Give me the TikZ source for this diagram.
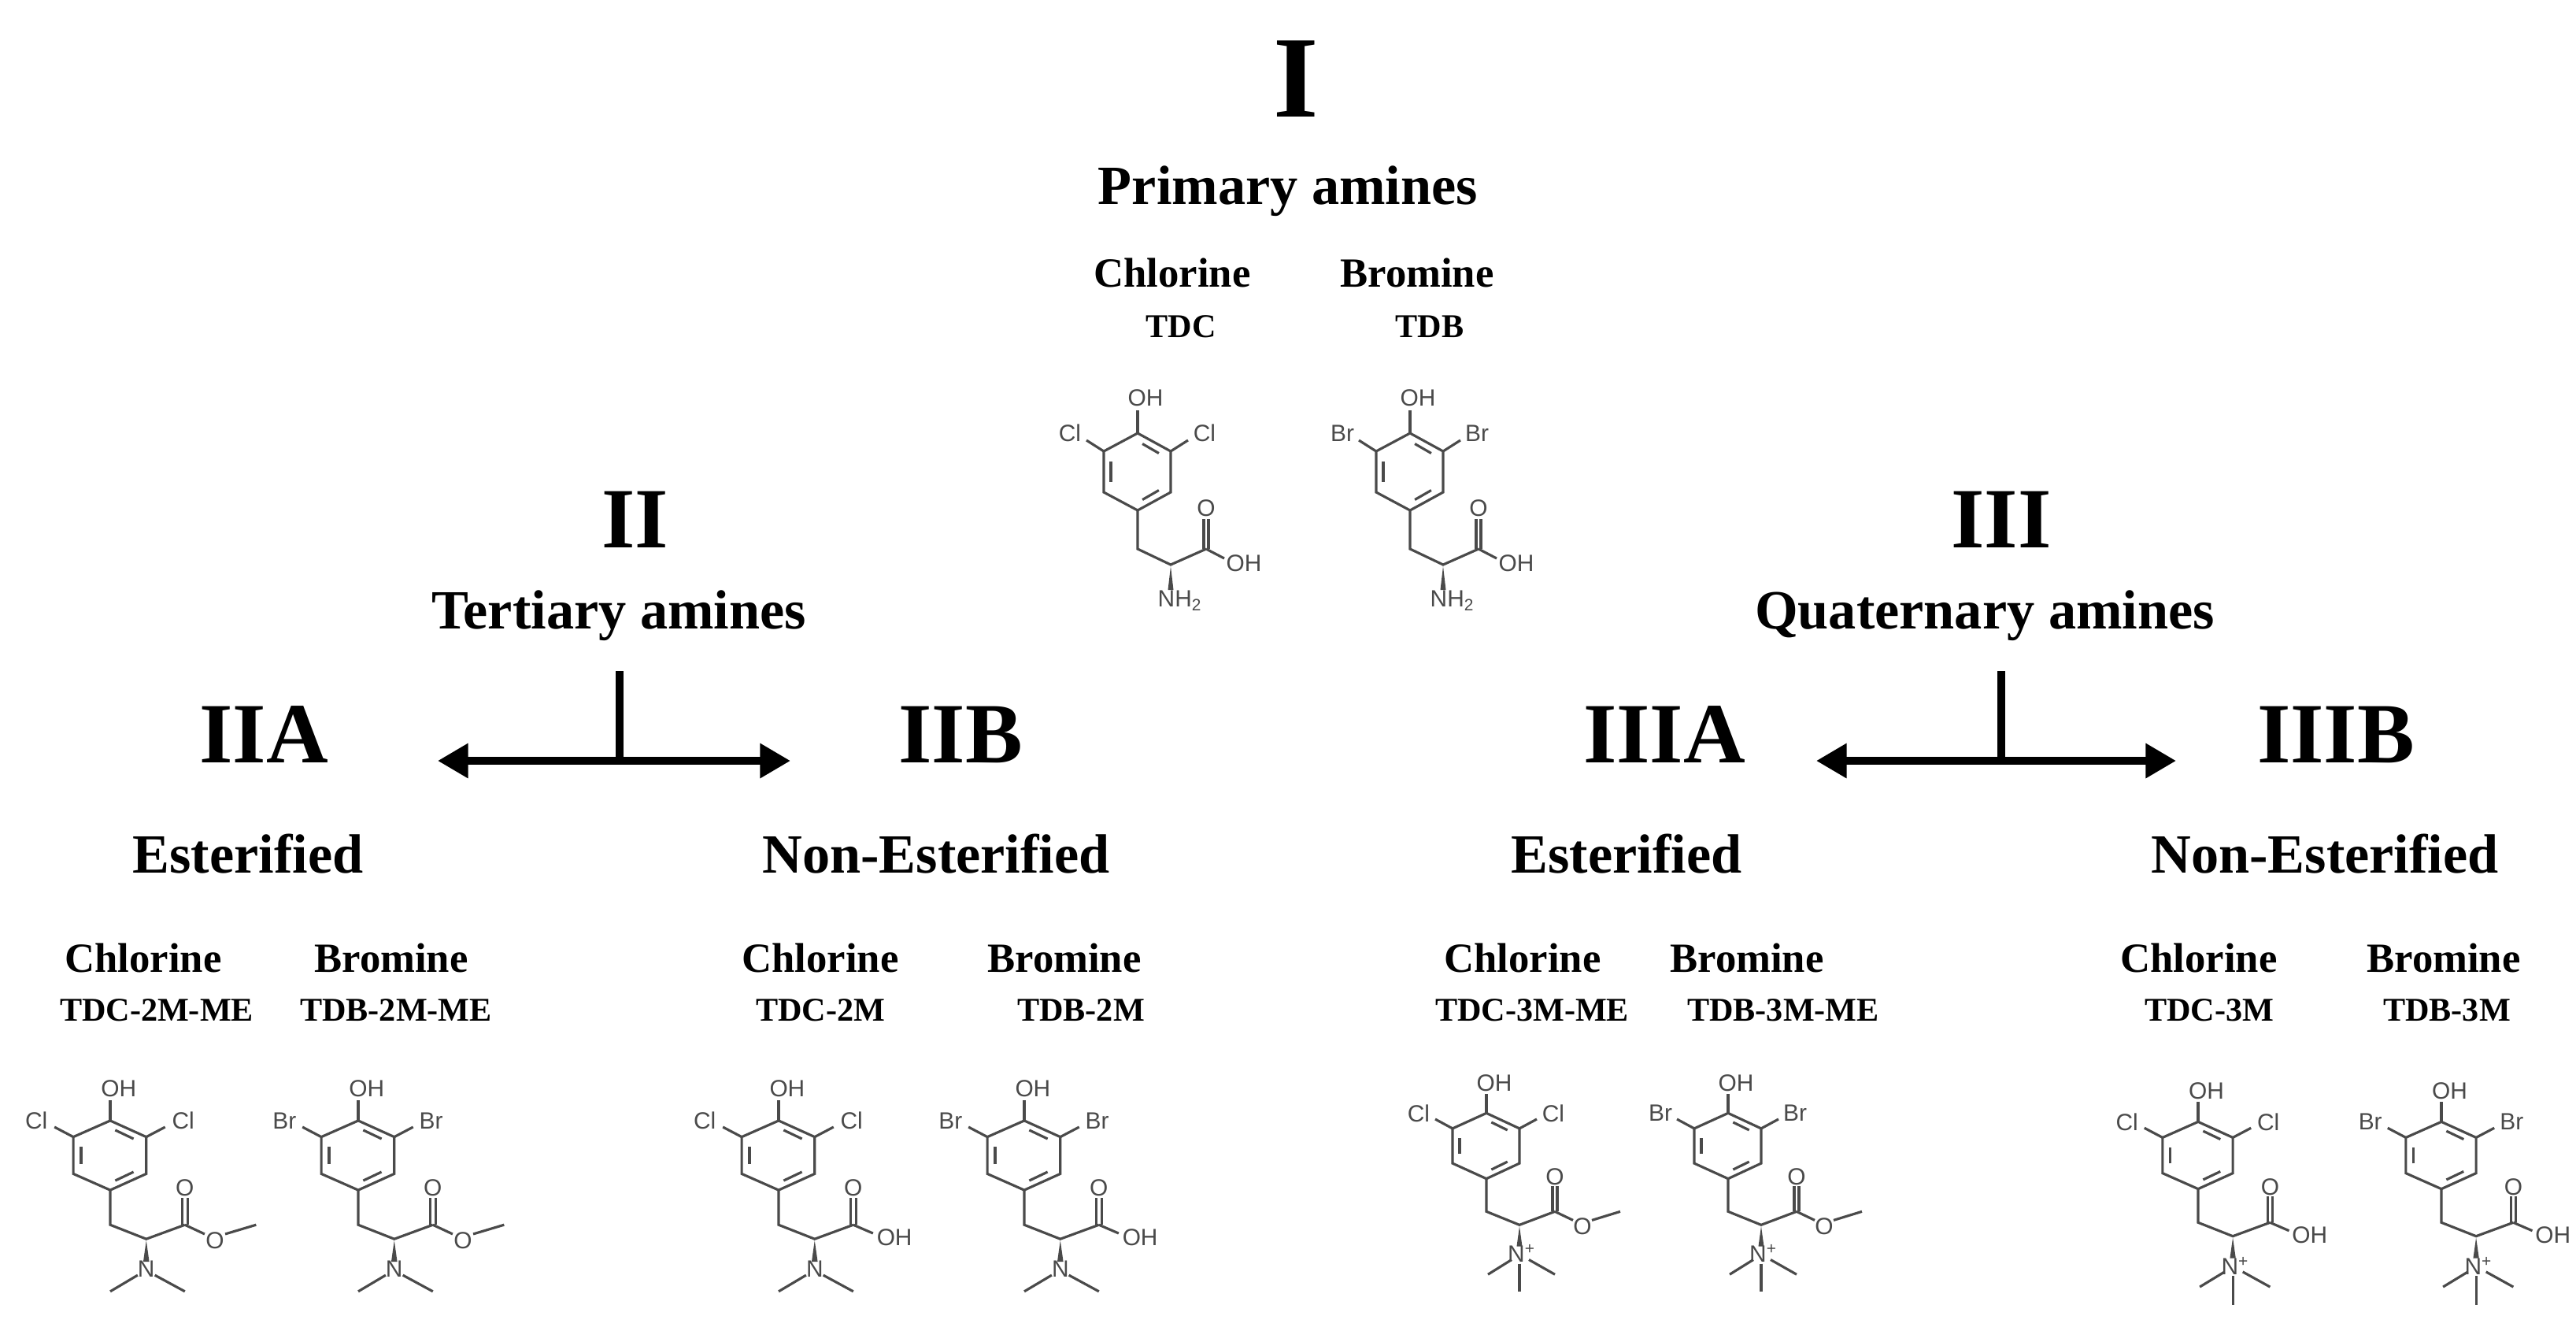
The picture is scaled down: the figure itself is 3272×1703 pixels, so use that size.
\documentclass[tikz,border=0pt]{standalone}
\usepackage{fontspec}
\setmainfont{Liberation Serif}
\newfontfamily\molfont{Liberation Sans}
\usetikzlibrary{arrows.meta}
\definecolor{molgray}{HTML}{4A4A4A}
\tikzset{
  bond/.style={draw=molgray,line width=0.9pt},
  atom/.style={text=molgray,font=\molfont\fontsize{8.5}{9}\selectfont,inner sep=0.5pt},
  big/.style={font=\bfseries\fontsize{42}{46}\selectfont,inner sep=0pt},
  mid/.style={font=\bfseries\fontsize{31}{34}\selectfont,inner sep=0pt},
  head/.style={font=\bfseries\fontsize{20}{24}\selectfont,inner sep=0pt},
  hal/.style={font=\bfseries\fontsize{15}{18}\selectfont,inner sep=0pt},
  code/.style={font=\bfseries\fontsize{12}{14}\selectfont,inner sep=0pt},
  arr/.style={line width=2.6pt,-{Triangle[length=11pt,width=12pt]}},
  stem/.style={line width=2.6pt},
}
% #1 x, #2 y, #3 halogen, #4 ester(1)/acid(0), #5 amine 0 NH2 /1 NMe2 /2 NMe3+, #6 xscale, #7 yscale
\newcommand\molec[7]{%
\begin{scope}[shift={(#1,#2)},xscale=#6,yscale=#7]
\draw[bond] (0,-49)--(42,-26)--(42,26)--(0,49)--(-43,26)--(-43,-26)--cycle;
\draw[bond,shorten <=2pt,shorten >=2pt] (0,-39)--(33,-20);
\draw[bond,shorten <=2pt,shorten >=2pt] (33,20)--(0,39);
\draw[bond,shorten <=2pt,shorten >=2pt] (-34,20)--(-34,-20);
\draw[bond] (0,-49)--(0,-78);
\node[atom] at (10,-94) {OH};
\draw[bond] (-43,-26)--(-65,-40);
\draw[bond] (42,-26)--(64,-40);
\node[atom] at (-86,-49) {#3};
\node[atom] at (85,-49) {#3};
\draw[bond] (0,49)--(0,98)--(42,118)--(87,98);
\draw[bond] (84,98)--(84,60);
\draw[bond] (90,98)--(90,60);
\node[atom] at (87,46) {O};
\ifnum#4=1
\draw[bond] (87,98)--(110,111);
\node[atom] at (122,120) {O};
\draw[bond] (134,111)--(170,98);
\else
\draw[bond] (87,98)--(110,110);
\node[atom] at (135,116) {OH};
\fi
\fill[molgray] (42,120)--(38.5,150)--(45.5,150)--cycle;
\ifcase#5
\node[atom] at (54,164) {NH\textsubscript{2}};
\or
\node[atom] at (42,160) {N};
\draw[bond] (32,169)--(0,192);
\draw[bond] (52,169)--(87,192);
\or
\node[atom] at (45,161) {N\textsuperscript{+}};
\draw[bond] (32,170)--(2,192);
\draw[bond] (54,170)--(87,192);
\draw[bond] (42,176)--(42,218);
\fi
\end{scope}}
\begin{document}
\begin{tikzpicture}[x=0.1mm,y=-0.1mm]
\useasboundingbox[fill=white] (0,0) rectangle (3272,1703);
% I
\node[big] (nI) at (1646,100) {I};
\node[head] (prim) at (1636,243) {Primary amines};
\node[hal] (clI) at (1489,346) {Chlorine};
\node[code] (tdc) at (1500,415) {TDC};
\node[hal] (brI) at (1800,346) {Bromine};
\node[code] (tdb) at (1816,415) {TDB};
\molec{1445}{599}{Cl}{0}{0}{1}{1}
\molec{1791}{599}{Br}{0}{0}{1}{1}
% II
\node[mid] (nII) at (807,660) {II};
\node[head] (tert) at (786,782) {Tertiary amines};
\coordinate (tvt) at (787,852);
\coordinate (tvb) at (787,966);
\coordinate (tl) at (556,966);
\coordinate (tr) at (1004,966);
\draw[stem] (tvt)--(tvb);
\draw[arr] (tvb)--(tl);
\draw[arr] (tvb)--(tr);
\node[mid] (IIA) at (335,933) {IIA};
\node[mid] (IIB) at (1220,933) {IIB};
\node[head] (e1) at (315,1084) {Esterified};
\node[head] (n1) at (1189,1084) {Non-Esterified};
\node[hal] at (182,1216) {Chlorine};
\node[code] at (199,1283) {TDC-2M-ME};
\node[hal] at (497,1216) {Bromine};
\node[code] at (503,1283) {TDB-2M-ME};
\node[hal] at (1042,1216) {Chlorine};
\node[code] at (1042,1283) {TDC-2M};
\node[hal] at (1352,1216) {Bromine};
\node[code] at (1373,1283) {TDB-2M};
\molec{140}{1467}{Cl}{1}{1}{1.09}{0.9}
\molec{455}{1467}{Br}{1}{1}{1.09}{0.9}
\molec{989}{1467}{Cl}{0}{1}{1.09}{0.9}
\molec{1301}{1467}{Br}{0}{1}{1.09}{0.9}
% III
\node[mid] (nIII) at (2542,660) {III};
\node[head] (quat) at (2521,782) {Quaternary amines};
\coordinate (qvt) at (2542,852);
\coordinate (qvb) at (2542,966);
\coordinate (ql) at (2307,966);
\coordinate (qr) at (2764,966);
\draw[stem] (qvt)--(qvb);
\draw[arr] (qvb)--(ql);
\draw[arr] (qvb)--(qr);
\node[mid] (IIIA) at (2114,933) {IIIA};
\node[mid] (IIIB) at (2967,933) {IIIB};
\node[head] (e2) at (2066,1084) {Esterified};
\node[head] (n2) at (2953,1084) {Non-Esterified};
\node[hal] at (1934,1216) {Chlorine};
\node[code] at (1946,1283) {TDC-3M-ME};
\node[hal] at (2219,1216) {Bromine};
\node[code] at (2265,1283) {TDB-3M-ME};
\node[hal] at (2793,1216) {Chlorine};
\node[code] at (2806,1283) {TDC-3M};
\node[hal] at (3104,1216) {Bromine};
\node[code] at (3108,1283) {TDB-3M};
\molec{1888}{1455}{Cl}{1}{2}{1}{0.85}
\molec{2195}{1455}{Br}{1}{2}{1}{0.85}
\molec{2792}{1467}{Cl}{0}{2}{1.05}{0.87}
\molec{3101}{1467}{Br}{0}{2}{1.05}{0.87}
\end{tikzpicture}
\end{document}
